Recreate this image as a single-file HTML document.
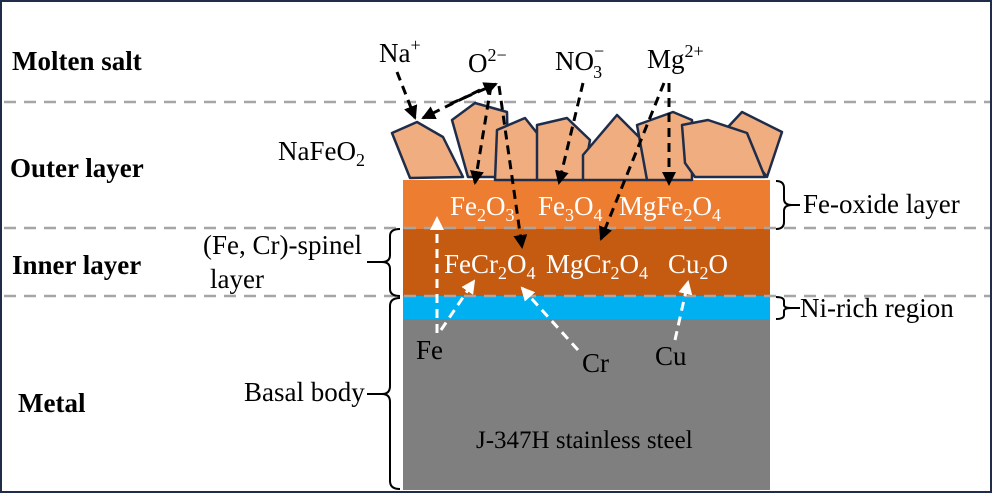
<!DOCTYPE html>
<html><head><style>
html,body{margin:0;padding:0;background:#fff}
svg{display:block}
text{font-family:"Liberation Serif",serif}
</style></head><body>
<svg width="992" height="493" viewBox="0 0 992 493" xmlns="http://www.w3.org/2000/svg">
<defs>
<marker id="bkb" markerWidth="14" markerHeight="14" refX="12" refY="7" orient="auto" markerUnits="userSpaceOnUse" viewBox="0 0 14 14"><path d="M0,0 L14,7 L0,14 z" fill="#000"/></marker>
<marker id="wh" markerWidth="14" markerHeight="14" refX="12" refY="7" orient="auto" markerUnits="userSpaceOnUse" viewBox="0 0 14 14"><path d="M0,0 L14,7 L0,14 z" fill="#fff"/></marker>
</defs>
<rect x="1" y="1" width="990" height="491" fill="#fff" stroke="#1f2d4a" stroke-width="2"/>
<rect x="403" y="180" width="367" height="49" fill="#ED7D31"/>
<rect x="403" y="229" width="367" height="67" fill="#C55A11"/>
<rect x="403" y="296" width="367" height="23" fill="#00B0F0"/>
<rect x="403" y="319" width="367" height="171" fill="#7F7F7F"/>
<g stroke="#a6a6a6" stroke-width="2.5" stroke-dasharray="12,8">
<line x1="4" y1="102" x2="990" y2="102"/>
<line x1="4" y1="228" x2="990" y2="228"/>
<line x1="4" y1="296" x2="990" y2="296"/>
</g>
<g fill="#F0AE80" stroke="#1f2d4a" stroke-width="2.5" stroke-linejoin="round">
<polygon points="392,133 417,122 443,137 463,177 410,178"/>
<polygon points="452,120 475,103 507,112 508,157 495,177 468,177"/>
<polygon points="497,130 525,118 545,143 537,180 495,180"/>
<polygon points="537,125 567,118 590,140 583,180 537,180"/>
<polygon points="583,155 617,115 645,143 647,180 583,180"/>
<polygon points="637,125 673,112 692,120 692,180 647,180"/>
<polygon points="728,127 742,112 782,132 767,177"/>
<polygon points="682,125 708,120 747,133 765,177 695,177 685,163"/>
</g>
<g stroke="#000" stroke-width="3" stroke-dasharray="9,6" fill="none">
<line x1="397" y1="72" x2="415" y2="118" marker-end="url(#bkb)"/>
<line x1="480" y1="90" x2="423" y2="118" marker-end="url(#bkb)"/>
<line x1="450" y1="104" x2="496" y2="84" marker-end="url(#bkb)"/>
<line x1="491" y1="86" x2="475" y2="183" marker-end="url(#bkb)"/>
<line x1="499" y1="86" x2="522" y2="247" marker-end="url(#bkb)"/>
<line x1="583" y1="83" x2="559" y2="183" marker-end="url(#bkb)"/>
<line x1="669" y1="83" x2="669" y2="184" marker-end="url(#bkb)"/>
<line x1="664" y1="83" x2="601" y2="239" marker-end="url(#bkb)"/>
</g>
<g stroke="#fff" stroke-width="3" stroke-dasharray="9,6" fill="none">
<line x1="437" y1="333" x2="437" y2="218" marker-end="url(#wh)"/>
<line x1="441" y1="330" x2="474" y2="281" marker-end="url(#wh)"/>
<line x1="578" y1="350" x2="522" y2="288" marker-end="url(#wh)"/>
<line x1="675" y1="340" x2="688" y2="282" marker-end="url(#wh)"/>
</g>
<g stroke="#000" stroke-width="2" fill="none">
<path d="M776,181 Q784,181 784,188 L784,199 Q784,205 792,205 Q784,205 784,211 L784,222 Q784,229 776,229"/>
<line x1="792" y1="205" x2="800" y2="205"/>
<path d="M776,297 Q784,297 784,301 L784,305 Q784,308 792,308 Q784,308 784,311 L784,315 Q784,319 776,319"/>
<line x1="792" y1="308" x2="800" y2="308"/>
<path d="M400,229 Q390,229 390,236 L390,255 Q390,262 382,262 Q390,262 390,269 L390,289 Q390,296 400,296"/>
<line x1="367" y1="262" x2="382" y2="262"/>
<path d="M400,298 Q390,298 390,306 L390,386 Q390,394 382,394 Q390,394 390,402 L390,481 Q390,489 400,489"/>
<line x1="367" y1="394" x2="382" y2="394"/>
</g>
<g font-weight="bold" font-size="27" fill="#000">
<text x="12" y="70">Molten salt</text>
<text x="10" y="177">Outer layer</text>
<text x="12" y="274">Inner layer</text>
<text x="18" y="412">Metal</text>
</g>
<g font-size="27" fill="#000">
<text x="379" y="62">Na<tspan font-size="18" dy="-11">+</tspan></text>
<text x="468" y="72">O<tspan font-size="18" dy="-11">2−</tspan></text>
<text x="555" y="70">NO<tspan font-size="18" dy="-13">−</tspan><tspan font-size="18" dx="-11" dy="21">3</tspan></text>
<text x="647" y="68">Mg<tspan font-size="18" dy="-11">2+</tspan></text>
<text x="278" y="160">NaFeO<tspan font-size="18" dy="6">2</tspan></text>
<text x="803" y="213">Fe-oxide layer</text>
<text x="800" y="317">Ni-rich region</text>
<text x="203" y="254">(Fe, Cr)-spinel</text>
<text x="210" y="288">layer</text>
<text x="244" y="401">Basal body</text>
<text x="416" y="359">Fe</text>
<text x="582" y="372">Cr</text>
<text x="655" y="365">Cu</text>
</g>
<g font-size="27" fill="#fff">
<text x="450" y="215">Fe<tspan font-size="18" dy="6">2</tspan><tspan dy="-6">O</tspan><tspan font-size="18" dy="6">3</tspan></text>
<text x="538" y="215">Fe<tspan font-size="18" dy="6">3</tspan><tspan dy="-6">O</tspan><tspan font-size="18" dy="6">4</tspan></text>
<text x="619" y="215">MgFe<tspan font-size="18" dy="6">2</tspan><tspan dy="-6">O</tspan><tspan font-size="18" dy="6">4</tspan></text>
<text x="444" y="273">FeCr<tspan font-size="18" dy="6">2</tspan><tspan dy="-6">O</tspan><tspan font-size="18" dy="6">4</tspan></text>
<text x="546" y="273">MgCr<tspan font-size="18" dy="6">2</tspan><tspan dy="-6">O</tspan><tspan font-size="18" dy="6">4</tspan></text>
<text x="668" y="273">Cu<tspan font-size="18" dy="6">2</tspan><tspan dy="-6">O</tspan></text>
</g>
<text x="476" y="448" font-size="25" fill="#000">J-347H stainless steel</text>
</svg>
</body></html>
